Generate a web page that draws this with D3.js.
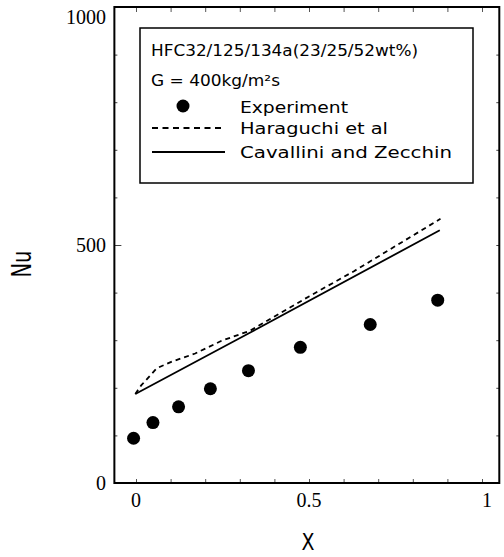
<!DOCTYPE html>
<html>
<head>
<meta charset="utf-8">
<script src="https://cdn.jsdelivr.net/npm/d3@7"></script>
<style>
  body { margin: 0; background: #fff; }
  svg { display: block; }
</style>
</head>
<body>
<div id="chart"></div>
<script>
// experiment points (quality x, Nusselt number)
const expX = [-0.007, 0.049, 0.123, 0.215, 0.325, 0.475, 0.677, 0.872]
const expNu = [94, 127, 160, 198, 236, 285, 333, 384]

// Haraguchi et al correlation (dashed)
const haraX = [-0.002, 0.015, 0.06, 0.104, 0.171, 0.248, 0.33, 0.5, 0.63, 0.88]
const haraNu = [187, 205, 241, 255, 272, 299, 320, 392, 445, 555]

// Cavallini and Zecchin correlation (solid)
const cavX = [-0.002, 0.325, 0.878]
const cavNu = [187, 314, 531]

const xTicks = [0, 0.1, 0.2, 0.3, 0.4, 0.5, 0.6, 0.7, 0.8, 0.9, 1]
const xLabels = {0: "0", 0.5: "0.5", 1: "1"}
const yTicks = [0, 100, 200, 300, 400, 500, 600, 700, 800, 900, 1000]
const yLabels = {0: "0", 500: "500", 1000: "1000"}

const legendTitle = ["HFC32/125/134a(23/25/52wt%)", "G = 400kg/m\u00B2s"]
const legendNames = ["Experiment", "Haraguchi et al", "Cavallini and Zecchin"]

const width = 504
const height = 557

const svg = d3.select("#chart")
    .append("svg")
    .attr("width", width)
    .attr("height", height)

const x = d3.scaleLinear().domain([0, 1]).range([136, 482])
const y = d3.scaleLinear().domain([0, 1000]).range([483, 7])

const frameL = x(-0.0625), frameR = x(1.05)
const frameT = y(1000), frameB = y(0)

const serif = "'Liberation Serif', 'DejaVu Serif', serif"
const narrow = "'DejaVu Sans Condensed', 'DejaVu Sans', sans-serif"

// ticks: bottom, top, left, right (all pointing inwards)
svg.append("g")
    .attr("transform", `translate(0,${frameB})`)
    .call(d3.axisBottom(x).tickValues(xTicks).tickSizeInner(-4).tickSizeOuter(0).tickFormat(""))
    .call(g => g.select(".domain").remove())
    .call(g => g.selectAll("line").attr("stroke", "#555"))

svg.append("g")
    .attr("transform", `translate(0,${frameT})`)
    .call(d3.axisTop(x).tickValues(xTicks).tickSizeInner(-5).tickSizeOuter(0).tickFormat(""))
    .call(g => g.select(".domain").remove())
    .call(g => g.selectAll("line").attr("stroke", "#555"))

svg.append("g")
    .attr("transform", `translate(${frameL},0)`)
    .call(d3.axisLeft(y).tickValues(yTicks).tickSizeInner(-3).tickSizeOuter(0).tickFormat(""))
    .call(g => g.select(".domain").remove())
    .call(g => g.selectAll("line").attr("stroke", "#444")
        .attr("x2", d => d == 500 ? 7 : 3))

svg.append("g")
    .attr("transform", `translate(${frameR},0)`)
    .call(d3.axisRight(y).tickValues(yTicks).tickSizeInner(-3).tickSizeOuter(0).tickFormat(""))
    .call(g => g.select(".domain").remove())
    .call(g => g.selectAll("line").attr("stroke", "#444"))

// frame
svg.append("rect")
    .attr("x", frameL)
    .attr("y", frameT)
    .attr("width", frameR - frameL)
    .attr("height", frameB - frameT)
    .attr("fill", "none")
    .attr("stroke", "#000")
    .attr("stroke-width", 2)

// tick labels
svg.selectAll(".xlab")
    .data(Object.keys(xLabels).map(Number))
    .enter().append("text")
    .attr("class", "xlab")
    .attr("x", d => x(d) + (d == 1 ? 5 : 0))
    .attr("y", frameB + 24)
    .attr("text-anchor", "middle")
    .attr("font-family", serif)
    .attr("font-size", 20)
    .text(d => xLabels[d])

svg.selectAll(".ylab")
    .data(Object.keys(yLabels).map(Number))
    .enter().append("text")
    .attr("class", "ylab")
    .attr("x", 106)
    .attr("y", d => y(d) + (d == 1000 ? 17 : 7))
    .attr("text-anchor", "end")
    .attr("font-family", serif)
    .attr("font-size", 20)
    .text(d => yLabels[d])

// axis titles
svg.append("text")
    .attr("x", 308)
    .attr("y", 550)
    .attr("text-anchor", "middle")
    .attr("font-family", narrow)
    .attr("font-size", 23)
    .attr("textLength", 13)
    .attr("lengthAdjust", "spacingAndGlyphs")
    .text("X")

svg.append("text")
    .attr("transform", "translate(31,264) rotate(-90)")
    .attr("text-anchor", "middle")
    .attr("font-family", narrow)
    .attr("font-size", 27)
    .attr("textLength", 27)
    .attr("lengthAdjust", "spacingAndGlyphs")
    .text("Nu")

// correlation lines
const line = d3.line()
    .x(d => x(d[0]))
    .y(d => y(d[1]))

svg.append("path")
    .datum(haraX.map((v, i) => [v, haraNu[i]]))
    .attr("d", line)
    .attr("fill", "none")
    .attr("stroke", "#000")
    .attr("stroke-width", 1.8)
    .attr("stroke-dasharray", "5,4")

svg.append("path")
    .datum(cavX.map((v, i) => [v, cavNu[i]]))
    .attr("d", line)
    .attr("fill", "none")
    .attr("stroke", "#000")
    .attr("stroke-width", 1.8)

// experiment
svg.selectAll(".pt")
    .data(expX.map((v, i) => [v, expNu[i]]))
    .enter().append("circle")
    .attr("class", "pt")
    .attr("cx", d => x(d[0]))
    .attr("cy", d => y(d[1]))
    .attr("r", 6.5)
    .attr("fill", "#000")

// legend
const lg = svg.append("g")
lg.append("rect")
    .attr("x", 140)
    .attr("y", 28)
    .attr("width", 333)
    .attr("height", 155)
    .attr("fill", "#fff")
    .attr("stroke", "#000")
    .attr("stroke-width", 1.5)

const legendFont = "'DejaVu Sans Condensed', 'DejaVu Sans', sans-serif"
lg.append("text")
    .attr("x", 151).attr("y", 56)
    .attr("font-family", legendFont).attr("font-size", 16)
    .attr("textLength", 267).attr("lengthAdjust", "spacingAndGlyphs")
    .text(legendTitle[0])
lg.append("text")
    .attr("x", 151).attr("y", 86)
    .attr("font-family", legendFont).attr("font-size", 16)
    .attr("textLength", 129).attr("lengthAdjust", "spacingAndGlyphs")
    .text(legendTitle[1])

lg.append("circle").attr("cx", 183).attr("cy", 106).attr("r", 6.5).attr("fill", "#000")
lg.append("line")
    .attr("x1", 152).attr("x2", 225).attr("y1", 128).attr("y2", 128)
    .attr("stroke", "#000").attr("stroke-width", 1.8).attr("stroke-dasharray", "6,4.5")
lg.append("line")
    .attr("x1", 152).attr("x2", 225).attr("y1", 152).attr("y2", 152)
    .attr("stroke", "#000").attr("stroke-width", 1.8)

const legendY = [113, 134, 158]
const legendW = [108, 148, 212]
lg.selectAll(".lname")
    .data(legendNames)
    .enter().append("text")
    .attr("class", "lname")
    .attr("x", 240)
    .attr("y", (d, i) => legendY[i])
    .attr("font-family", legendFont)
    .attr("font-size", 16)
    .attr("textLength", (d, i) => legendW[i])
    .attr("lengthAdjust", "spacingAndGlyphs")
    .text(d => d)
</script>
</body>
</html>
